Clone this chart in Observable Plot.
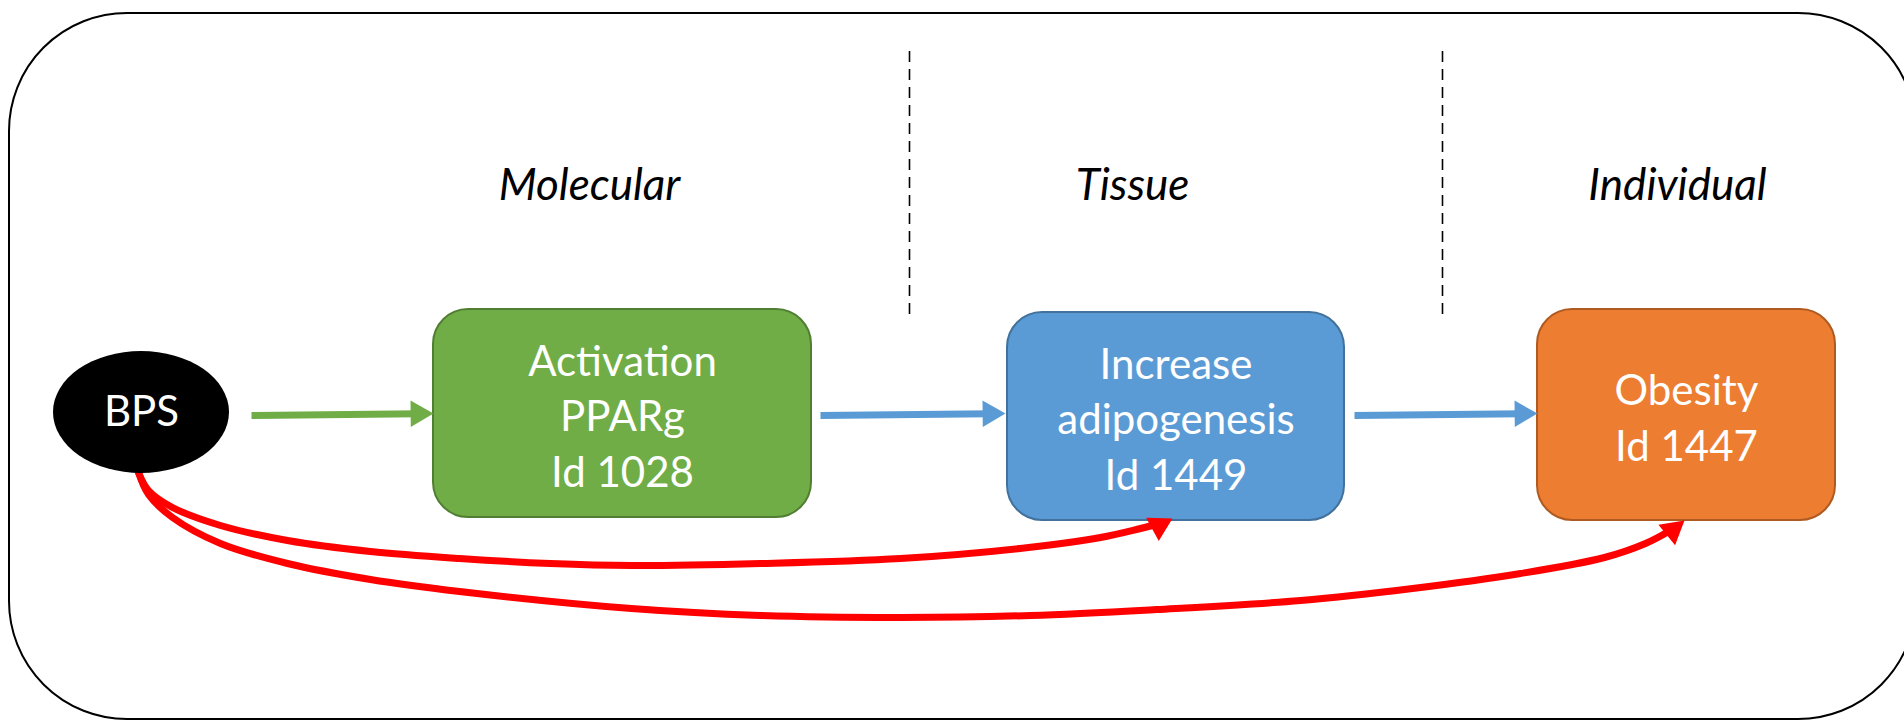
<!DOCTYPE html>
<html>
<head>
<meta charset="utf-8">
<script src="https://cdn.jsdelivr.net/npm/d3@7"></script>
<script src="https://cdn.jsdelivr.net/npm/@observablehq/plot@0.6"></script>
<style>
  html, body { margin: 0; padding: 0; background: #fff; overflow: hidden; }
  #chart svg { display: block; }
</style>
</head>
<body>
<div id="chart"></div>
<script>
// ---- Content ----
const stressor = "BPS";
const stages = ["Molecular", "Tissue", "Individual"];
const keyEvents = ["Activation\nPPARg\nId 1028", "Increase\nadipogenesis\nId 1449", "Obesity\nId 1447"];
const eventFill = ["#70AD47", "#5B9BD5", "#ED7D31"];
const eventStroke = ["#507E32", "#41719C", "#AE5A21"];

// ---- Layout (diagram coordinates, pixel units) ----
const stageX = [589, 1132, 1677];
const stageY = 185;
const dividerX = [909, 1442];
const boxX1 = [433, 1007, 1537];
const boxX2 = [811, 1344, 1835];
const boxY1 = [309, 312, 309];
const boxY2 = [517, 520, 520];
const stressorCx = 141, stressorCy = 412, stressorRx = 88, stressorRy = 61;

// straight arrows: start, tip
const arrowFromX = [251, 820, 1354];
const arrowFromY = [415, 415, 415];
const arrowTipX = [433, 1005, 1537];
const arrowTipY = [413, 413, 413];
const arrowColor = ["#70AD47", "#5B9BD5", "#5B9BD5"];

// red curved (non-adjacent) relationships
const curve1 = [[138,472],[148,490],[172,507],[220,525],[287,540],[370,551],[459,558],[550,563],[631,565],[760,563],[900,558],[1028,547],[1100,537],[1140,528],[1160,523]];
const curve1Tip = [1172, 518], curve1Dir = [22, -12];
const curve2 = [[138,472],[148,494],[172,517],[220,543],[287,563],[370,579],[459,591],[631,608],[760,615],[900,617],[1030,615],[1156,609],[1300,600],[1412,588],[1520,573],[1604,557],[1645,543],[1668,531],[1674,527]];
const curve2Tip = [1684, 520], curve2Dir = [16, -13];

// ---- Build tables ----
const boxes = keyEvents.map((label, i) => ({
  label, x1: boxX1[i], x2: boxX2[i], y1: boxY1[i], y2: boxY2[i],
  cx: (boxX1[i] + boxX2[i]) / 2, cy: (boxY1[i] + boxY2[i]) / 2,
  fill: eventFill[i], stroke: eventStroke[i]
}));
const stageRows = stages.map((s, i) => ({s, x: stageX[i], y: stageY}));

const headR = 9.8;          // triangle symbol radius
const tipOffset = 2 * Math.sqrt(Math.PI * headR * headR / (3 * Math.sqrt(3)));
function head(tip, dir, color) {
  const len = Math.hypot(dir[0], dir[1]);
  const ux = dir[0] / len, uy = dir[1] / len;
  return {x: tip[0] - ux * tipOffset, y: tip[1] - uy * tipOffset,
          rotate: Math.atan2(dir[0], -dir[1]) * 180 / Math.PI, color};
}
const straight = arrowFromX.map((x, i) => {
  const dir = [arrowTipX[i] - x, arrowTipY[i] - arrowFromY[i]];
  const h = head([arrowTipX[i], arrowTipY[i]], dir, arrowColor[i]);
  return {x1: x, y1: arrowFromY[i], x2: h.x, y2: h.y, color: arrowColor[i], head: h};
});
const heads = [
  ...straight.map(d => d.head),
  head(curve1Tip, curve1Dir, "#FF0000"),
  head(curve2Tip, curve2Dir, "#FF0000")
];
const curves = [
  ...curve1.map(([x, y]) => ({x, y, k: "c1"})),
  ...curve2.map(([x, y]) => ({x, y, k: "c2"}))
];

const font = "Lato, 'Open Sans', sans-serif";

const chart = Plot.plot({
  width: 1904,
  height: 721,
  margin: 0,
  x: {type: "linear", domain: [0, 1904], range: [0, 1904], axis: null},
  y: {type: "linear", domain: [0, 721], range: [0, 721], axis: null},
  style: {background: "white", overflow: "hidden"},
  marks: [
    // outer frame
    Plot.rect([{}], {x1: 9, x2: 1916, y1: 13, y2: 719, rx: 118, ry: 118, fill: "none", stroke: "black", strokeWidth: 2}),
    // stage dividers
    Plot.ruleX(dividerX, {x: d => d, y1: 51, y2: 316, stroke: "black", strokeWidth: 1.6, strokeDasharray: "11,7"}),
    // stage labels
    Plot.text(stageRows, {x: "x", y: "y", text: "s", fontFamily: font, fontStyle: "italic", fontSize: 44, fill: "black", lineAnchor: "middle"}),
    // red curves
    Plot.line(curves, {x: "x", y: "y", z: "k", stroke: "#FF0000", strokeWidth: 7, curve: "catmull-rom", strokeLinecap: "round"}),
    // straight arrows
    Plot.link(straight, {x1: "x1", y1: "y1", x2: "x2", y2: "y2", stroke: "color", strokeWidth: 7}),
    // stressor ellipse
    Plot.rect([{}], {x1: stressorCx - stressorRx, x2: stressorCx + stressorRx, y1: stressorCy - stressorRy, y2: stressorCy + stressorRy, rx: stressorRx, ry: stressorRy, fill: "black"}),
    Plot.text([stressor], {x: stressorCx, y: stressorCy, text: d => d, fill: "white", fontFamily: font, fontSize: 42, lineAnchor: "middle"}),
    // key event boxes
    Plot.rect(boxes, {x1: "x1", x2: "x2", y1: "y1", y2: "y2", rx: 35, ry: 35, fill: "fill", stroke: "stroke", strokeWidth: 2}),
    Plot.text(boxes, {x: "cx", y: "cy", text: "label", fill: "white", fontFamily: font, fontSize: 42, lineHeight: 1.33, lineAnchor: "middle"}),
    // arrow heads
    Plot.dot(heads, {x: "x", y: "y", symbol: "triangle", r: headR, rotate: "rotate", fill: "color", stroke: "none"})
  ]
});
document.getElementById("chart").appendChild(chart);
</script>
</body>
</html>
